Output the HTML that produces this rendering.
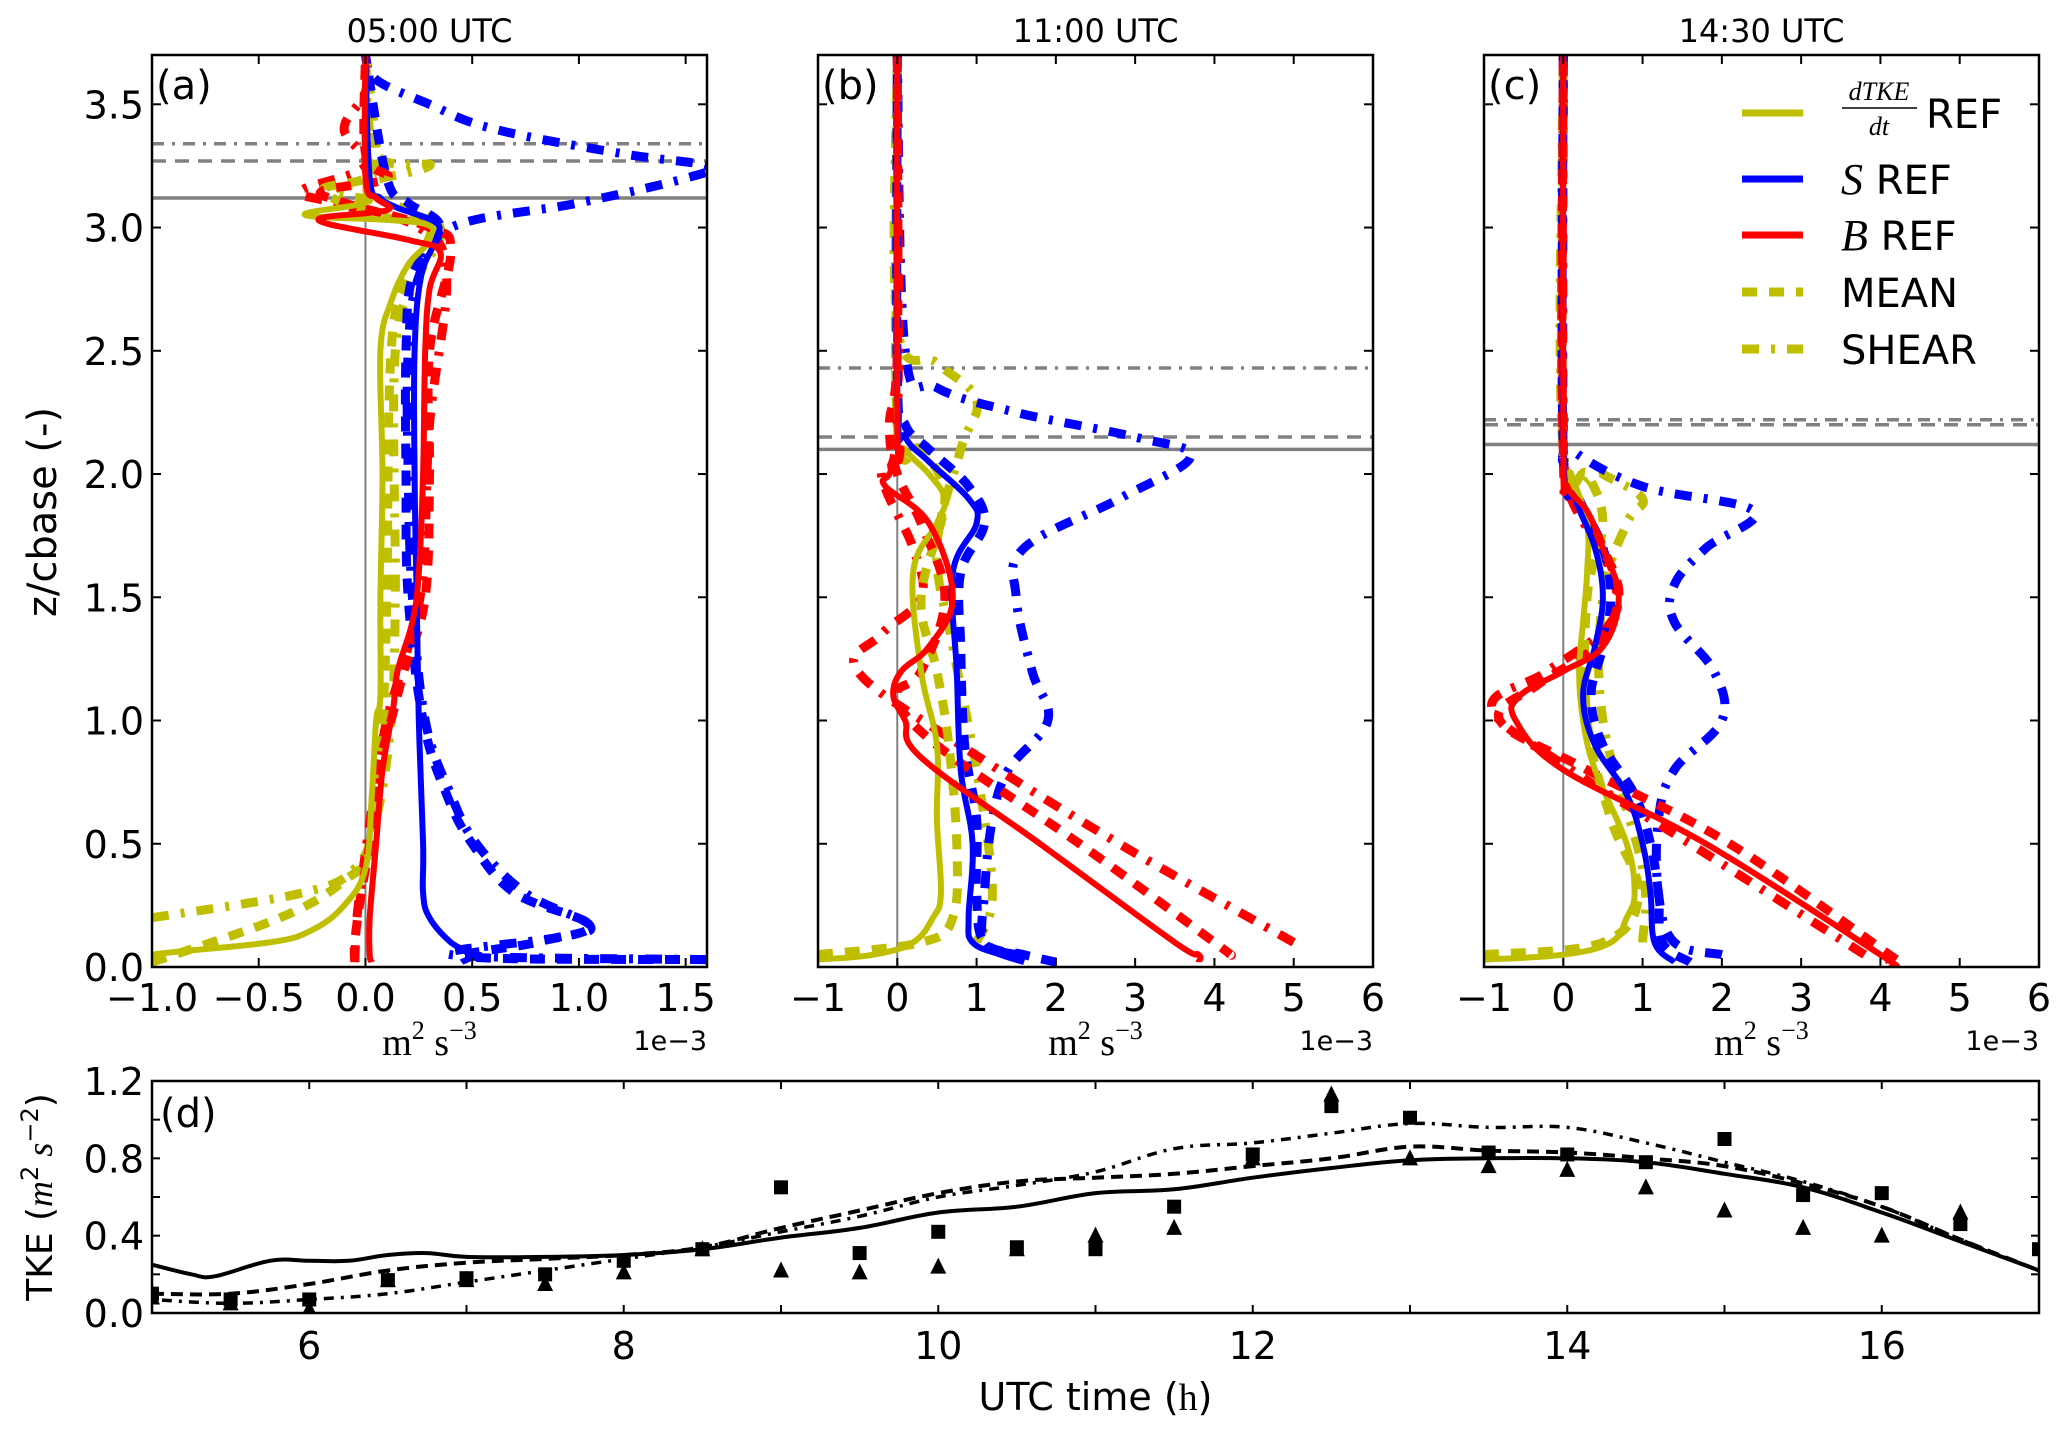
<!DOCTYPE html>
<html><head><meta charset="utf-8"><style>
body{margin:0;background:#fff}
svg text{font-family:"DejaVu Sans","Liberation Sans",sans-serif;fill:#000}
.ser{font-family:"Liberation Serif","DejaVu Serif",serif}
</style></head><body>
<svg id="fig" xmlns="http://www.w3.org/2000/svg" width="2067" height="1428" viewBox="0 0 2067 1428">
<rect width="2067" height="1428" fill="#fff"/>
</svg>
<script>
// ---------- profile data (z/cbase, value in 1e-3 m2 s-3) ----------
const a_dtke=[[0.02,-1.0],[0.05,-1.0],[0.1,-0.45],[0.15,-0.25],[0.25,-0.1],[0.4,0.0],[0.7,0.03],[1.0,0.05],[1.1,0.07],[1.5,0.07],[2.0,0.08],[2.5,0.07],[2.7,0.12],[2.85,0.2],[2.95,0.3],[3.02,0.25],[3.05,-0.28],[3.1,0.0],[3.15,0.0],[3.3,0.0],[3.7,0.0]];
const a_s=[[0.02,0.45],[0.05,0.5],[0.1,0.4],[0.2,0.3],[0.3,0.27],[0.5,0.27],[1.0,0.25],[1.5,0.24],[2.0,0.23],[2.5,0.23],[2.8,0.26],[2.95,0.33],[3.02,0.33],[3.08,0.15],[3.12,0.07],[3.2,0.02],[3.7,0.0]];
const a_b=[[0.02,0.03],[0.05,0.02],[0.2,0.02],[0.5,0.05],[0.8,0.08],[1.05,0.13],[1.2,0.15],[1.4,0.22],[1.6,0.25],[2.0,0.27],[2.5,0.28],[2.75,0.3],[2.9,0.35],[2.95,0.2],[3.03,-0.22],[3.07,0.1],[3.12,0.05],[3.2,0.0],[3.7,0.0]];
const a_mean_dtke=[[0.02,-1.0],[0.2,-0.4],[0.35,-0.1],[0.5,0.03],[1.0,0.08],[1.5,0.1],[2.5,0.12],[2.8,0.2],[3.0,0.3],[3.05,0.05],[3.15,-0.2],[3.2,0.0],[3.3,0.05],[3.7,0.0]];
const a_mean_s=[[0.03,1.6],[0.04,0.5],[0.1,0.8],[0.17,1.05],[0.3,0.7],[0.5,0.5],[0.7,0.38],[1.0,0.27],[1.5,0.2],[2.0,0.19],[2.5,0.19],[2.8,0.22],[3.0,0.35],[3.1,0.2],[3.2,0.1],[3.7,0.0]];
const a_mean_b=[[0.02,-0.05],[0.1,-0.05],[0.3,-0.02],[0.5,0.02],[0.8,0.06],[1.0,0.12],[1.2,0.18],[1.5,0.28],[2.0,0.3],[2.5,0.3],[2.9,0.4],[3.0,0.3],[3.1,-0.1],[3.15,-0.2],[3.2,0.1],[3.3,0.0],[3.7,0.0]];
const a_shear_dtke=[[0.2,-1.0],[0.3,-0.3],[0.4,-0.05],[0.6,0.05],[1.0,0.12],[1.5,0.14],[2.5,0.14],[2.8,0.25],[3.0,0.35],[3.1,0.1],[3.15,-0.15],[3.25,0.3],[3.3,0.05],[3.7,0.0]];
const a_shear_s=[[0.03,1.6],[0.05,0.4],[0.12,0.9],[0.17,1.05],[0.3,0.75],[0.5,0.52],[0.7,0.4],[1.0,0.28],[1.5,0.22],[2.0,0.2],[2.5,0.2],[2.8,0.25],[3.0,0.4],[3.1,1.0],[3.2,1.5],[3.25,1.6],[3.3,1.2],[3.4,0.6],[3.5,0.3],[3.6,0.05],[3.7,0.0]];
const a_shear_b=[[0.02,-0.05],[0.2,-0.04],[0.4,-0.01],[0.7,0.04],[1.0,0.1],[1.3,0.2],[1.6,0.27],[2.2,0.3],[2.8,0.38],[3.0,0.25],[3.1,-0.15],[3.15,-0.3],[3.25,0.0],[3.4,-0.1],[3.55,0.0],[3.7,0.0]];

const b_dtke=[[0.03,-1.0],[0.05,-0.3],[0.1,0.2],[0.2,0.45],[0.3,0.55],[0.6,0.5],[0.9,0.5],[1.2,0.3],[1.6,0.2],[1.8,0.5],[1.9,0.6],[2.0,0.4],[2.1,0.1],[2.2,0.0],[3.7,0.0]];
const b_s=[[0.02,1.6],[0.05,1.3],[0.1,0.95],[0.2,0.9],[0.5,0.95],[0.8,0.8],[1.2,0.75],[1.6,0.7],[1.8,1.0],[1.9,0.9],[2.05,0.4],[2.15,0.1],[2.3,0.0],[3.7,0.0]];
const b_b=[[0.02,3.8],[0.05,3.8],[0.1,3.5],[0.5,1.8],[0.85,0.3],[1.0,0.1],[1.1,-0.05],[1.2,0.05],[1.3,0.4],[1.5,0.7],[1.8,0.4],[1.95,-0.15],[2.0,-0.1],[2.1,0.05],[2.2,0.0],[3.7,0.0]];
const b_mean_dtke=[[0.05,-1.0],[0.1,0.3],[0.2,0.7],[0.5,0.75],[0.9,0.65],[1.2,0.5],[1.5,0.3],[1.9,0.6],[2.1,0.3],[2.2,0.0],[3.7,0.0]];
const b_mean_s=[[0.02,2.0],[0.05,1.6],[0.1,1.1],[0.3,1.0],[0.6,1.0],[0.9,0.85],[1.3,0.8],[1.6,0.8],[1.8,1.1],[1.95,0.9],[2.1,0.4],[2.2,0.1],[2.4,0.0],[3.7,0.0]];
const b_mean_b=[[0.05,4.2],[0.1,4.0],[0.5,2.3],[0.9,0.5],[1.1,0.0],[1.2,0.3],[1.5,0.6],[1.8,0.3],[2.0,0.0],[2.2,-0.1],[2.5,0.0],[3.7,0.0]];
const b_shear_dtke=[[0.1,1.0],[0.3,1.2],[0.8,1.0],[1.3,0.7],[1.7,0.5],[2.1,0.8],[2.3,1.0],[2.45,0.5],[2.6,0.0],[3.7,0.0]];
const b_shear_s=[[0.05,1.5],[0.1,1.1],[0.3,1.1],[0.6,1.2],[0.8,1.4],[1.0,1.9],[1.2,1.7],[1.5,1.5],[1.7,1.6],[1.9,2.8],[2.07,3.7],[2.15,3.0],[2.25,1.5],[2.35,0.5],[2.5,0.1],[3.7,0.0]];
const b_shear_b=[[0.1,5.0],[0.5,2.8],[0.9,0.8],[1.2,-0.5],[1.35,-0.2],[1.5,0.3],[1.7,0.2],[2.0,-0.2],[2.2,0.0],[3.7,0.0]];

const c_dtke=[[0.03,-1.0],[0.05,0.0],[0.1,0.6],[0.2,0.8],[0.3,0.9],[0.5,0.8],[0.8,0.4],[1.0,0.25],[1.2,0.2],[1.4,0.25],[1.6,0.3],[1.8,0.3],[2.0,0.1],[2.1,0.0],[3.7,0.0]];
const c_s=[[0.02,1.4],[0.1,1.15],[0.3,1.1],[0.5,1.0],[0.7,0.8],[0.9,0.4],[1.1,0.25],[1.3,0.4],[1.5,0.5],[1.7,0.4],[1.9,0.15],[2.1,0.0],[3.7,0.0]];
const c_b=[[0.02,4.1],[0.05,4.0],[0.5,1.8],[0.8,0.0],[1.0,-0.6],[1.1,-0.55],[1.2,0.0],[1.3,0.5],[1.5,0.7],[1.7,0.5],[1.85,0.3],[1.95,0.05],[2.1,0.0],[3.7,0.0]];
const c_mean_dtke=[[0.05,-1.0],[0.1,0.5],[0.3,0.95],[0.6,0.6],[1.0,0.3],[1.5,0.3],[1.8,0.5],[2.0,0.3],[2.1,0.0],[3.7,0.0]];
const c_mean_s=[[0.02,1.6],[0.1,1.25],[0.3,1.2],[0.5,1.1],[0.7,0.9],[0.9,0.5],[1.1,0.35],[1.3,0.5],[1.5,0.6],[1.7,0.5],[1.9,0.2],[2.1,0.0],[3.7,0.0]];
const c_mean_b=[[0.03,4.2],[0.5,2.1],[0.8,0.3],[1.0,-0.8],[1.15,-0.3],[1.3,0.4],[1.5,0.7],[1.7,0.5],[1.9,0.2],[2.1,0.0],[3.7,0.0]];
const c_shear_dtke=[[0.1,1.0],[0.4,1.0],[1.0,0.5],[1.5,0.5],[1.8,0.8],[1.9,1.0],[2.0,0.5],[2.1,0.0],[3.7,0.0]];
const c_shear_s=[[0.05,2.0],[0.1,1.4],[0.3,1.2],[0.6,1.2],[0.8,1.4],[1.0,2.0],[1.2,1.9],[1.4,1.4],[1.55,1.4],[1.7,1.8],[1.85,2.4],[1.95,1.0],[2.1,0.1],[2.2,0.0],[3.7,0.0]];
const c_shear_b=[[0.05,3.8],[0.5,1.6],[0.8,0.1],[1.05,-0.9],[1.2,-0.2],[1.4,0.6],[1.6,0.6],[1.9,0.1],[2.1,0.0],[3.7,0.0]];

// inversion heights: [solid, dashed, dashdot]
const a_hlines=[3.12,3.27,3.34];
const b_hlines=[2.10,2.15,2.43];
const c_hlines=[2.12,2.20,2.22];

// ---------- TKE time-series data ----------
const d_time_ref=[5,5.25,5.4,5.75,6,6.25,6.5,6.75,7,7.5,8,8.5,9,9.5,10,10.5,11,11.5,12,12.5,13,13.5,14,14.5,15,15.5,16,16.5,17];
const d_tke_ref=[0.25,0.2,0.19,0.27,0.27,0.27,0.3,0.31,0.29,0.29,0.3,0.33,0.39,0.44,0.52,0.55,0.62,0.64,0.7,0.75,0.79,0.8,0.8,0.78,0.72,0.65,0.52,0.37,0.22];
const d_time=[5,5.5,6,6.5,7,7.5,8,8.5,9,9.5,10,10.5,11,11.5,12,12.5,13,13.5,14,14.5,15,15.5,16,16.5,17];
const d_tke_mean=[0.1,0.1,0.15,0.22,0.26,0.28,0.3,0.34,0.44,0.53,0.62,0.68,0.7,0.72,0.76,0.8,0.86,0.84,0.83,0.8,0.76,0.67,0.55,0.38,0.22];
const d_tke_shear=[0.07,0.05,0.07,0.1,0.16,0.22,0.28,0.34,0.42,0.5,0.6,0.66,0.73,0.85,0.88,0.93,0.98,0.96,0.96,0.88,0.78,0.68,0.55,0.38,0.22];
const d_obs_sq=[0.1,0.07,0.07,0.17,0.18,0.2,0.27,0.33,0.65,0.31,0.42,0.34,0.33,0.55,0.82,1.07,1.01,0.83,0.82,0.78,0.9,0.61,0.62,0.46,0.33];
const d_obs_tri_time=[5,5.5,6,6.5,7,7.5,8,8.5,9,9.5,10,10.5,11,11.5,12,12.5,13,13.5,14,14.5,15,15.5,16,16.5];
const d_obs_tri=[0.08,0.05,0.02,0.17,0.17,0.15,0.21,0.33,0.22,0.21,0.24,0.33,0.4,0.44,0.8,1.13,0.8,0.76,0.74,0.65,0.53,0.44,0.4,0.52];

const aTicks=[-1.0,-0.5,0.0,0.5,1.0,1.5];
const bcTicks=[-1,0,1,2,3,4,5,6];
const zTicks=[0.0,0.5,1.0,1.5,2.0,2.5,3.0,3.5];
const dXTicks=[6,8,10,12,14,16];
const dYTicks=[0.0,0.4,0.8,1.2];

// ---------- drawing ----------
const NS='http://www.w3.org/2000/svg';
const svg=document.getElementById('fig');
function el(tag,attrs,parent){const e=document.createElementNS(NS,tag);for(const k in attrs)e.setAttribute(k,attrs[k]);(parent||svg).appendChild(e);return e;}
function fmt(v,d){const s=v.toFixed(d);return s.replace('-','\u2212');}
function smooth(pts){ // catmull-rom to cubic bezier
  let d='M'+pts[0][0].toFixed(1)+','+pts[0][1].toFixed(1);
  for(let i=0;i<pts.length-1;i++){
    const p0=pts[Math.max(0,i-1)],p1=pts[i],p2=pts[i+1],p3=pts[Math.min(pts.length-1,i+2)];
    const t=0.18;
    const c1=[p1[0]+(p2[0]-p0[0])*t,p1[1]+(p2[1]-p0[1])*t];
    const c2=[p2[0]-(p3[0]-p1[0])*t,p2[1]-(p3[1]-p1[1])*t];
    d+='C'+c1[0].toFixed(1)+','+c1[1].toFixed(1)+' '+c2[0].toFixed(1)+','+c2[1].toFixed(1)+' '+p2[0].toFixed(1)+','+p2[1].toFixed(1);
  }
  return d;
}
const COL={y:'#bfbf00',b:'#0000ff',r:'#ff0000'};
const STY={solid:{w:6,da:'none'},mean:{w:9,da:'15 12'},shear:{w:9,da:'17 12 4 12'}};
const TF=38;

function panel(key,x0,title,xmin,xmax,xt,xd,series,hl,label,showY){
  const P={x0:x0,y0:55,w:555,h:912,xmin:xmin,xmax:xmax,ymin:0,ymax:3.7};
  const sx=v=>P.x0+(v-P.xmin)/(P.xmax-P.xmin)*P.w;
  const sy=v=>P.y0+P.h-(v-P.ymin)/(P.ymax-P.ymin)*P.h;
  const g=el('g',{});
  
  
  const cp=el('clipPath',{id:'clip-'+key},g);
  el('rect',{x:P.x0,y:P.y0,width:P.w,height:P.h},cp);
  const inner=el('g',{'clip-path':'url(#clip-'+key+')'},g);
  const zl=el('line',{x1:sx(0),x2:sx(0),y1:P.y0,y2:P.y0+P.h,stroke:'#808080','stroke-width':2},inner);
  
  
  const hst=[['none',3.5],['14 9',3.5],['12 8 3 8',3.5]];
  hl.forEach((h,i)=>{const l=el('line',{x1:P.x0,x2:P.x0+P.w,y1:sy(h),y2:sy(h),stroke:'#808080','stroke-width':hst[i][1],'stroke-dasharray':hst[i][0]},inner);
    
    });
  series.forEach(s=>{
    const d=smooth(s.data.map(p=>[sx(p[1]),sy(p[0])]));
    const st=STY[s.style];
    const p=el('path',{d:d,fill:'none',stroke:COL[s.c],'stroke-width':st.w,'stroke-dasharray':st.da,'stroke-linejoin':'round'},inner);
    
    
  });
  el('rect',{x:P.x0,y:P.y0,width:P.w,height:P.h,fill:'none',stroke:'#000','stroke-width':2.5},g);
  xt.forEach(v=>{const X=sx(v);
    el('line',{x1:X,x2:X,y1:P.y0+P.h,y2:P.y0+P.h-9,stroke:'#000','stroke-width':2},g);
    el('line',{x1:X,x2:X,y1:P.y0,y2:P.y0+9,stroke:'#000','stroke-width':2},g);
    const t=el('text',{x:X,y:P.y0+P.h+44,'font-size':TF,'text-anchor':'middle'},g);t.textContent=fmt(v,xd);
    
    });
  zTicks.forEach(v=>{const Y=sy(v);
    el('line',{x1:P.x0,x2:P.x0+9,y1:Y,y2:Y,stroke:'#000','stroke-width':2},g);
    el('line',{x1:P.x0+P.w,x2:P.x0+P.w-9,y1:Y,y2:Y,stroke:'#000','stroke-width':2},g);
    if(showY){const t=el('text',{x:P.x0-8,y:Y+14,'font-size':TF,'text-anchor':'end'},g);t.textContent=fmt(v,1);
      
      }});
  const tt=el('text',{x:P.x0+P.w/2,y:42,'font-size':32,'text-anchor':'middle'},g);tt.textContent=title;
  
  
  const lb=el('text',{x:P.x0+4,y:P.y0+44,'font-size':40},g);lb.textContent=label;
  
  
  const ul=el('text',{x:P.x0+P.w/2,y:1055,'font-size':38,'text-anchor':'middle','class':'ser'},g);
  ul.innerHTML='m<tspan dy="-16" font-size="26">2</tspan><tspan dy="16"> s</tspan><tspan dy="-16" font-size="26">\u22123</tspan>';
  
  
  const ex=el('text',{x:P.x0+P.w,y:1050,'font-size':27,'text-anchor':'end'},g);ex.textContent='1e\u22123';
  
  
}
function S(pfx){const m={a:[a_dtke,a_s,a_b,a_mean_dtke,a_mean_s,a_mean_b,a_shear_dtke,a_shear_s,a_shear_b],b:[b_dtke,b_s,b_b,b_mean_dtke,b_mean_s,b_mean_b,b_shear_dtke,b_shear_s,b_shear_b],c:[c_dtke,c_s,c_b,c_mean_dtke,c_mean_s,c_mean_b,c_shear_dtke,c_shear_s,c_shear_b]}[pfx];
  return [
   {data:m[6],c:'y',style:'shear',name:'shear-dtke-profile'},{data:m[7],c:'b',style:'shear',name:'shear-s-profile'},{data:m[8],c:'r',style:'shear',name:'shear-b-profile'},
   {data:m[3],c:'y',style:'mean',name:'mean-dtke-profile'},{data:m[4],c:'b',style:'mean',name:'mean-s-profile'},{data:m[5],c:'r',style:'mean',name:'mean-b-profile'},
   {data:m[0],c:'y',style:'solid',name:'ref-dtke-profile'},{data:m[1],c:'b',style:'solid',name:'ref-s-profile'},{data:m[2],c:'r',style:'solid',name:'ref-b-profile'}];}
panel('a',152,'05:00 UTC',-1.0,1.6,aTicks,1,S('a'),a_hlines,'(a)',true);
panel('b',818,'11:00 UTC',-1,6,bcTicks,0,S('b'),b_hlines,'(b)',false);
panel('c',1484,'14:30 UTC',-1,6,bcTicks,0,S('c'),c_hlines,'(c)',false);

const yl=el('text',{x:0,y:0,'font-size':40,'text-anchor':'middle',transform:'translate(56,512) rotate(-90)'});
yl.textContent='z/cbase (-)';



// legend
const lg=el('g',{});


const legY=[113,179,235,292,349];
const legC=['y','b','r','y','y'];
const legS=['solid','solid','solid','mean','shear'];
legY.forEach((y,i)=>{const st=STY[legS[i]];
  const l=el('line',{x1:1742,x2:1803,y1:y,y2:y,stroke:COL[legC[i]],'stroke-width':legS[i]=='solid'?7:9,'stroke-dasharray':st.da},lg);
  
  });
function lt(x,y,html,nm){const t=el('text',{x:x,y:y,'font-size':40},lg);t.innerHTML=html;
  
  return t;}
const f1=el('text',{x:1879,y:100,'font-size':26,'text-anchor':'middle','class':'ser','font-style':'italic'},lg);f1.textContent='dTKE';
el('line',{x1:1842,x2:1917,y1:108,y2:108,stroke:'#000','stroke-width':1.5},lg);
const f2=el('text',{x:1879,y:135,'font-size':26,'text-anchor':'middle','class':'ser','font-style':'italic'},lg);f2.textContent='dt';
lt(1926,128,'REF','legend-entry-dtke');
lt(1841,194,'<tspan class="ser" font-style="italic" font-size="44">S</tspan> REF','legend-entry-s');
lt(1841,250,'<tspan class="ser" font-style="italic" font-size="44">B</tspan> REF','legend-entry-b');
lt(1841,307,'MEAN','legend-entry-mean');
lt(1841,364,'SHEAR','legend-entry-shear');

// ---------- panel d ----------
(function(){
  const P={x0:152,y0:1081,w:1887,h:232,xmin:5,xmax:17,ymin:0,ymax:1.2};
  const sx=v=>P.x0+(v-P.xmin)/(P.xmax-P.xmin)*P.w;
  const sy=v=>P.y0+P.h-(v-P.ymin)/(P.ymax-P.ymin)*P.h;
  const g=el('g',{});
  
  
  const cp=el('clipPath',{id:'clip-d'},g);
  el('rect',{x:P.x0,y:P.y0-20,width:P.w,height:P.h+20},cp);
  const inner=el('g',{'clip-path':'url(#clip-d)'},g);
  function line(t,v,da,w,nm){const d=smooth(t.map((x,i)=>[sx(x),sy(v[i])]));
    const p=el('path',{d:d,fill:'none',stroke:'#000','stroke-width':w,'stroke-dasharray':da},inner);
    
    }
  line(d_time,d_tke_shear,'3 7 10 7',3.5,'tke-shear-line');
  line(d_time,d_tke_mean,'12 7',4,'tke-mean-line');
  line(d_time_ref,d_tke_ref,'none',4,'tke-ref-line');
  d_time.forEach((t,i)=>{const r=el('rect',{x:sx(t)-7,y:sy(d_obs_sq[i])-7,width:14,height:14,fill:'#000'},inner);
    
    });
  d_obs_tri_time.forEach((t,i)=>{const X=sx(t),Y=sy(d_obs_tri[i]);
    const p=el('polygon',{points:`${X},${Y-9} ${X-8},${Y+7} ${X+8},${Y+7}`,fill:'#000'},inner);
    
    });
  el('rect',{x:P.x0,y:P.y0,width:P.w,height:P.h,fill:'none',stroke:'#000','stroke-width':2.5},g);
  for(let v=5;v<=17;v+=1){const X=sx(v);
    el('line',{x1:X,x2:X,y1:P.y0+P.h,y2:P.y0+P.h-8,stroke:'#000','stroke-width':2},g);
    el('line',{x1:X,x2:X,y1:P.y0,y2:P.y0+8,stroke:'#000','stroke-width':2},g);}
  dXTicks.forEach(v=>{const t=el('text',{x:sx(v),y:P.y0+P.h+46,'font-size':TF,'text-anchor':'middle'},g);t.textContent=String(v);
    
    });
  for(let k=0;k<=6;k++){const Y=sy(k*0.2);
    el('line',{x1:P.x0,x2:P.x0+8,y1:Y,y2:Y,stroke:'#000','stroke-width':2},g);
    el('line',{x1:P.x0+P.w,x2:P.x0+P.w-8,y1:Y,y2:Y,stroke:'#000','stroke-width':2},g);}
  dYTicks.forEach(v=>{const t=el('text',{x:P.x0-8,y:sy(v)+14,'font-size':TF,'text-anchor':'end'},g);t.textContent=v.toFixed(1);
    
    });
  const lb=el('text',{x:P.x0+8,y:P.y0+46,'font-size':40},g);lb.textContent='(d)';
  
  
  const xl=el('text',{x:P.x0+P.w/2,y:1410,'font-size':38,'text-anchor':'middle'},g);
  xl.innerHTML='UTC time (<tspan class="ser">h</tspan>)';
  
  
  const yt=el('text',{x:0,y:0,'font-size':36,'text-anchor':'middle',transform:`translate(52,${P.y0+P.h/2}) rotate(-90)`},g);
  yt.innerHTML='TKE (<tspan class="ser" font-style="italic">m</tspan><tspan dy="-14" font-size="24">2</tspan><tspan dy="14" class="ser" font-style="italic"> s</tspan><tspan dy="-14" font-size="24">\u22122</tspan><tspan dy="14">)</tspan>';
  
  
})();
</script>
</body></html>
